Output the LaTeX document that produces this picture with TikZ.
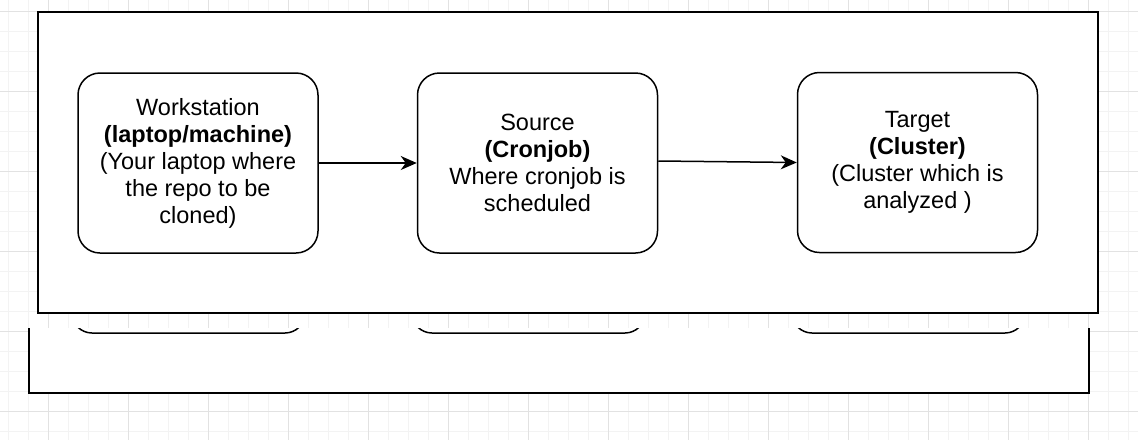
\documentclass[tikz,border=0pt]{standalone}
\usepackage{fontspec}
\setmainfont{Liberation Sans}
\usetikzlibrary{arrows.meta}
\definecolor{gridminor}{HTML}{F3F3F3}
\definecolor{gridmajor}{HTML}{E2E2E2}

\begin{document}
\begin{tikzpicture}[x=1pt,y=-1pt,
        frame/.style={draw,line width=2pt,fill=white},
        box/.style={draw,line width=1.5pt,fill=white,rounded corners=22pt,
            minimum width=240pt,minimum height=180pt,align=center,
            font=\fontsize{23.5}{27}\selectfont},
        flow/.style={line width=1.5pt,-{Stealth[length=16pt,width=14pt,inset=5pt]}}]
            \def\cutbottom{333}
            \newcommand\cutbox[2]{% {<left>}{<right>}
                \draw[line width=1.5pt,rounded corners=20pt] (#1,250) rectangle (#2,\cutbottom);
            }

            \useasboundingbox (0,0) rectangle (1138,440);
            \fill[white] (0,0) rectangle (1138,440);

            % background grid
            \foreach \gx in {8.3,28.3,...,1138} \draw[gridminor,line width=1pt] (\gx,0) -- (\gx,440);
            \foreach \gy in {11.7,31.7,...,440} \draw[gridminor,line width=1pt] (0,\gy) -- (1138,\gy);
            \foreach \gx in {48.3,128.3,...,1138} \draw[gridmajor,line width=1pt] (\gx,0) -- (\gx,440);
            \foreach \gy in {11.7,91.7,...,440} \draw[gridmajor,line width=1pt] (0,\gy) -- (1138,\gy);

            % lower copy
            \fill[white] (29,328) rectangle (1089,393);
            \draw[line width=2pt] (29,328) -- (29,393) -- (1089,393) -- (1089,328);
            \begin{scope}
                \clip (29,328) rectangle (1089,393);
                \cutbox{72}{305}
                \cutbox{412}{645}
                \cutbox{792}{1025}
            \end{scope}

            \draw[frame] (38,12) rectangle (1098,313);

            \node[box] (ws) at (198,163) {Workstation\\\textbf{(laptop/machine)}\\(Your laptop where\\the repo to be\\cloned)};
            \node[box] (src) at (537.5,163) {Source\\\textbf{(Cronjob)}\\Where cronjob is\\scheduled};
            \node[box] (tgt) at (917.5,162.5) {Target\\\textbf{(Cluster)}\\(Cluster which is\\analyzed )};

            \draw[flow] (ws) -- (src);
            \draw[flow] ([yshift=2pt]src.east) -- (tgt.west);
        \end{tikzpicture}
\end{document}
